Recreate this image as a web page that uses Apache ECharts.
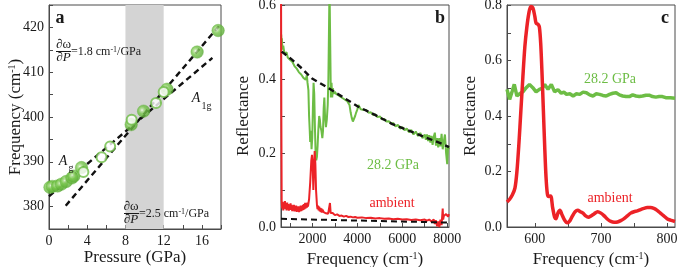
<!DOCTYPE html>
<html>
<head>
<meta charset="utf-8">
<script src="https://cdn.jsdelivr.net/npm/echarts@6/dist/echarts.min.js"></script>
<style>
  html, body { margin: 0; padding: 0; background: #fff; }
  #chart { width: 685px; height: 267px; }
</style>
</head>
<body>
<div id="chart"></div>
<script>
// panel a — Raman mode vs pressure
const aFilled = [[0.1, 384.3], [0.35, 384.5], [0.9, 384.6], [1.3, 385.0], [1.8, 385.6], [2.4, 386.4], [2.6, 386.8], [3.4, 388.7], [8.6, 398.3], [9.9, 401.3], [12.35, 406.2], [15.5, 414.5], [17.7, 419.3]];
const aOpen = [[3.6, 387.7], [5.5, 391.0], [6.4, 393.4], [12.0, 405.6], [8.65, 399.4], [11.2, 403.1]];
const aFitSlow = [[0, 382.3], [17.1, 413.2]];   // 1.8 cm-1/GPa
const aFitFast = [[1.75, 380.2], [17.95, 420.7]]; // 2.5 cm-1/GPa
const aShade = [8, 12];

// panel b — broadband reflectance
const bHigh = [[600, 0.46], [610, 0.52], [620, 0.5], [640, 0.51], [660, 0.48], [700, 0.49], [750, 0.47], [800, 0.468], [850, 0.472], [900, 0.458], [950, 0.462], [1000, 0.452], [1050, 0.45], [1100, 0.447], [1150, 0.443], [1200, 0.435], [1250, 0.437], [1300, 0.428], [1350, 0.424], [1400, 0.418], [1450, 0.42], [1500, 0.412], [1550, 0.408], [1600, 0.403], [1650, 0.405], [1700, 0.398], [1750, 0.41], [1780, 0.39], [1820, 0.37], [1850, 0.3], [1880, 0.26], [1900, 0.23], [1930, 0.26], [1960, 0.21], [1990, 0.24], [2020, 0.32], [2050, 0.39], [2080, 0.36], [2110, 0.27], [2140, 0.2], [2170, 0.18], [2200, 0.19], [2230, 0.22], [2260, 0.26], [2300, 0.3], [2330, 0.29], [2360, 0.27], [2400, 0.26], [2440, 0.24], [2470, 0.26], [2500, 0.32], [2530, 0.35], [2560, 0.3], [2600, 0.27], [2640, 0.29], [2680, 0.33], [2710, 0.4], [2740, 0.55], [2760, 0.65], [2780, 0.65], [2800, 0.45], [2820, 0.35], [2850, 0.39], [2880, 0.35], [2910, 0.375], [2950, 0.36], [3000, 0.366], [3050, 0.36], [3100, 0.362], [3150, 0.356], [3200, 0.358], [3250, 0.352], [3300, 0.354], [3350, 0.348], [3400, 0.35], [3450, 0.344], [3500, 0.345], [3550, 0.34], [3600, 0.338], [3650, 0.33], [3700, 0.31], [3750, 0.295], [3800, 0.285], [3850, 0.29], [3900, 0.3], [3950, 0.31], [4000, 0.318], [4050, 0.33], [4100, 0.334], [4150, 0.318], [4200, 0.322], [4300, 0.316], [4400, 0.316], [4500, 0.309], [4600, 0.31], [4700, 0.303], [4800, 0.304], [4900, 0.297], [5000, 0.299], [5100, 0.291], [5200, 0.292], [5300, 0.285], [5400, 0.286], [5500, 0.279], [5600, 0.281], [5700, 0.272], [5800, 0.276], [5900, 0.266], [6000, 0.27], [6100, 0.262], [6200, 0.266], [6300, 0.256], [6400, 0.262], [6500, 0.25], [6600, 0.258], [6700, 0.246], [6800, 0.254], [6900, 0.24], [7000, 0.25], [7050, 0.236], [7100, 0.25], [7150, 0.232], [7200, 0.248], [7250, 0.228], [7300, 0.246], [7350, 0.222], [7400, 0.244], [7450, 0.255], [7500, 0.22], [7550, 0.24], [7600, 0.215], [7650, 0.24], [7700, 0.218], [7750, 0.252], [7800, 0.21], [7850, 0.232], [7900, 0.25], [7950, 0.2], [8000, 0.17], [8040, 0.22], [8080, 0.21]];
const bAmbient = [[600, 0.7], [615, 0.3], [630, 0.07], [650, 0.05], [675, 0.068], [700, 0.045], [725, 0.065], [750, 0.05], [775, 0.07], [800, 0.048], [825, 0.063], [850, 0.045], [875, 0.066], [900, 0.05], [925, 0.062], [950, 0.044], [975, 0.06], [1000, 0.047], [1025, 0.064], [1050, 0.046], [1075, 0.06], [1100, 0.043], [1125, 0.058], [1150, 0.045], [1175, 0.06], [1200, 0.042], [1225, 0.057], [1250, 0.044], [1275, 0.058], [1300, 0.041], [1325, 0.055], [1350, 0.043], [1375, 0.056], [1400, 0.04], [1425, 0.055], [1450, 0.042], [1475, 0.058], [1500, 0.043], [1525, 0.056], [1550, 0.045], [1575, 0.06], [1600, 0.046], [1625, 0.062], [1650, 0.048], [1675, 0.065], [1700, 0.05], [1725, 0.064], [1750, 0.052], [1775, 0.066], [1800, 0.055], [1850, 0.075], [1900, 0.12], [1950, 0.18], [1980, 0.195], [2010, 0.17], [2040, 0.1], [2070, 0.16], [2100, 0.205], [2130, 0.17], [2160, 0.1], [2200, 0.06], [2225, 0.048], [2250, 0.058], [2275, 0.045], [2300, 0.055], [2325, 0.042], [2350, 0.052], [2375, 0.04], [2400, 0.05], [2425, 0.039], [2450, 0.047], [2500, 0.04], [2550, 0.045], [2600, 0.037], [2650, 0.042], [2700, 0.036], [2750, 0.04], [2780, 0.065], [2810, 0.038], [2850, 0.035], [2900, 0.038], [3000, 0.032], [3100, 0.034], [3200, 0.03], [3300, 0.031], [3400, 0.028], [3500, 0.03], [3600, 0.027], [3700, 0.028], [3800, 0.026], [3900, 0.027], [4000, 0.025], [4200, 0.026], [4400, 0.024], [4600, 0.025], [4800, 0.023], [5000, 0.024], [5200, 0.022], [5400, 0.023], [5600, 0.021], [5800, 0.022], [6000, 0.02], [6200, 0.021], [6400, 0.019], [6600, 0.02], [6800, 0.018], [7000, 0.02], [7100, 0.017], [7200, 0.02], [7300, 0.015], [7400, 0.02], [7450, 0.008], [7500, 0.018], [7550, 0.002], [7600, 0.015], [7650, 0], [7700, 0.02], [7750, 0.005], [7800, 0.05], [7820, 0.02], [7850, 0.03], [7900, 0.025], [7950, 0.035], [8000, 0.03], [8040, 0.028], [8080, 0.035]];
const bFitHigh = [[630, 0.474], [1076, 0.453], [1522, 0.429], [1967, 0.402], [2559, 0.381], [3302, 0.353], [4042, 0.325], [4786, 0.303], [5530, 0.279], [6268, 0.261], [7011, 0.243], [7754, 0.225], [8080, 0.216]];
const bFitAmbient = [[600, 0.022], [8080, 0.012]];

// panel c — phonon region
const cAmbient = [[558, 0.09], [562, 0.1], [566, 0.115], [570, 0.14], [573, 0.2], [576, 0.3], [579, 0.42], [582, 0.54], [585, 0.65], [588, 0.72], [591, 0.77], [594, 0.795], [597, 0.79], [600, 0.76], [602, 0.735], [605, 0.73], [607, 0.72], [609, 0.66], [611, 0.55], [613, 0.42], [615, 0.29], [617, 0.18], [619, 0.12], [621, 0.11], [624, 0.112], [627, 0.07], [630, 0.035], [632, 0.03], [635, 0.05], [638, 0.06], [641, 0.045], [645, 0.025], [649, 0.015], [653, 0.022], [657, 0.04], [661, 0.055], [665, 0.06], [669, 0.055], [673, 0.05], [677, 0.04], [681, 0.035], [685, 0.04], [690, 0.048], [695, 0.055], [700, 0.05], [705, 0.04], [710, 0.028], [715, 0.02], [720, 0.017], [725, 0.018], [730, 0.023], [735, 0.03], [740, 0.04], [745, 0.05], [750, 0.055], [755, 0.058], [760, 0.063], [765, 0.067], [770, 0.07], [775, 0.07], [780, 0.067], [785, 0.06], [790, 0.05], [795, 0.04], [800, 0.03], [805, 0.025], [812, 0.02]];
const cHigh = [[558, 0.496], [562, 0.46], [566, 0.49], [569, 0.514], [573, 0.472], [577, 0.48], [582, 0.487], [587, 0.502], [592, 0.514], [597, 0.502], [602, 0.487], [607, 0.496], [611, 0.5], [615, 0.514], [620, 0.496], [625, 0.514], [630, 0.487], [635, 0.495], [640, 0.482], [644, 0.486], [648, 0.478], [653, 0.48], [658, 0.472], [663, 0.48], [668, 0.478], [673, 0.486], [678, 0.484], [683, 0.476], [688, 0.472], [693, 0.48], [698, 0.478], [703, 0.474], [708, 0.472], [713, 0.478], [718, 0.482], [723, 0.484], [728, 0.476], [733, 0.472], [738, 0.47], [743, 0.47], [748, 0.476], [753, 0.472], [758, 0.47], [763, 0.472], [768, 0.475], [773, 0.475], [778, 0.47], [783, 0.468], [788, 0.47], [793, 0.47], [798, 0.466], [805, 0.466], [812, 0.464]];

// ticks
const bTicks = [1000, 2000, 3000, 4000, 5000, 6000, 7000, 8000];
const bLabels = [2000, 4000, 6000, 8000];
const cTicks = [600, 650, 700, 750, 800];
const cLabels = [600, 700, 800];

const FONT = "'Liberation Serif', 'Times New Roman', serif";
const INK = '#1a1a1a';
const FRAME = '#4a4a4a';
const GREEN = '#6dbd45';
const RED = '#ec2227';

const supRich = { sup: { fontSize: 10, fontFamily: FONT, color: INK, verticalAlign: 'top' } };

const axisLine = { show: true, lineStyle: { color: FRAME, width: 1 } };
const tick = (extra) => Object.assign({ show: true, inside: true, length: 4, lineStyle: { color: FRAME } }, extra);
const label = (extra) => Object.assign({ color: INK, fontFamily: FONT, fontSize: 14, margin: 5, formatter: (v) => String(v) }, extra);
const nameStyle = { color: INK, fontFamily: FONT, fontSize: 17, rich: supRich };

const grid = (left, top, width, height) => ({
  left, top, width, height, outerBoundsMode: 'none', containLabel: false,
  show: true, borderColor: FRAME, borderWidth: 1, backgroundColor: 'transparent',
});

const sphere = {
  type: 'radial', x: 0.38, y: 0.42, r: 0.62,
  colorStops: [
    { offset: 0, color: '#f6fcf1' },
    { offset: 0.18, color: '#b3e096' },
    { offset: 0.45, color: '#76c54a' },
    { offset: 1, color: '#58a834' },
  ],
};

const dashed = (xi, data, width) => ({
  type: 'line', xAxisIndex: xi, yAxisIndex: xi, data, symbol: 'none', z: 5,
  lineStyle: { color: '#111', width, type: [6, 4] }, silent: true,
});

const txt = (x, y, text, extra) => ({
  type: 'text', x, y, z: 100, silent: true,
  style: Object.assign({ text, fontFamily: FONT, fontSize: 12, fill: INK, textAlign: 'left', textVerticalAlign: 'middle' }, extra),
});
const italicP = { i: { fontFamily: FONT, fontSize: 13, fontStyle: 'italic', fill: INK } };
const supS = { s: { fontFamily: FONT, fontSize: 8, fill: INK, verticalAlign: 'top' } };

const chart = echarts.init(document.getElementById('chart'), null, { renderer: 'canvas' });

chart.setOption({
  animation: false,
  grid: [grid(49, 5, 172, 224), grid(281, 5, 168, 222), grid(507, 5, 168, 222)],
  xAxis: [
    {
      type: 'value', gridIndex: 0, min: 0, max: 18, interval: 2,
      axisLine, axisTick: tick(), splitLine: { show: false },
      axisLabel: label({ formatter: (v) => (v % 4 === 0 ? String(v) : '') }),
      name: 'Pressure (GPa)', nameLocation: 'middle', nameGap: 20, nameMoveOverlap: false, nameTextStyle: nameStyle,
    },
    {
      type: 'value', gridIndex: 1, min: 600, max: 8080,
      axisLine, axisTick: tick({ customValues: bTicks }), splitLine: { show: false },
      axisLabel: label({ customValues: bLabels }),
      name: 'Frequency (cm{sup|-1})', nameLocation: 'middle', nameGap: 24, nameMoveOverlap: false, nameTextStyle: nameStyle,
    },
    {
      type: 'value', gridIndex: 2, min: 558, max: 812,
      axisLine, axisTick: tick({ customValues: cTicks }), splitLine: { show: false },
      axisLabel: label({ customValues: cLabels }),
      name: 'Frequency (cm{sup|-1})', nameLocation: 'middle', nameGap: 24, nameMoveOverlap: false, nameTextStyle: nameStyle,
    },
  ],
  yAxis: [
    {
      type: 'value', gridIndex: 0, min: 375, max: 425, interval: 5,
      axisLine, axisTick: tick(), splitLine: { show: false },
      axisLabel: label({ formatter: (v) => (v % 10 === 0 && v >= 380 && v <= 420 ? String(v) : '') }),
      name: 'Frequency (cm{sup|-1})', nameLocation: 'middle', nameGap: 25, nameMoveOverlap: false, nameTextStyle: nameStyle,
    },
    {
      type: 'value', gridIndex: 1, min: 0, max: 0.6, interval: 0.1,
      axisLine, axisTick: tick(), splitLine: { show: false },
      axisLabel: label({ formatter: (v) => (Math.round(v * 10) % 2 === 0 ? v.toFixed(1) : '') }),
      name: 'Reflectance', nameLocation: 'middle', nameGap: 29, nameMoveOverlap: false, nameTextStyle: nameStyle,
    },
    {
      type: 'value', gridIndex: 2, min: 0, max: 0.8, interval: 0.1,
      axisLine, axisTick: tick(), splitLine: { show: false },
      axisLabel: label({ formatter: (v) => (Math.round(v * 10) % 2 === 0 ? v.toFixed(1) : '') }),
      name: 'Reflectance', nameLocation: 'middle', nameGap: 28, nameMoveOverlap: false, nameTextStyle: nameStyle,
    },
  ],
  series: [
    // panel a
    {
      type: 'line', xAxisIndex: 0, yAxisIndex: 0, data: [], z: 1, silent: true,
      markArea: { silent: true, itemStyle: { color: '#d4d4d4' }, data: [[{ xAxis: aShade[0] }, { xAxis: aShade[1] }]] },
    },
    dashed(0, aFitSlow, 2.4),
    dashed(0, aFitFast, 2.4),
    {
      type: 'scatter', xAxisIndex: 0, yAxisIndex: 0, data: aFilled, symbolSize: 12.5, z: 6,
      itemStyle: { color: sphere, borderColor: '#5fae3a', borderWidth: 0.5 },
    },
    {
      type: 'scatter', xAxisIndex: 0, yAxisIndex: 0, data: aOpen, symbolSize: 10, z: 7,
      itemStyle: { color: '#ffffff', borderColor: GREEN, borderWidth: 2 },
    },
    // panel b
    {
      type: 'line', xAxisIndex: 1, yAxisIndex: 1, data: bHigh, symbol: 'none', z: 3,
      lineStyle: { color: GREEN, width: 2 },
    },
    {
      type: 'line', xAxisIndex: 1, yAxisIndex: 1, data: bAmbient, symbol: 'none', z: 3,
      lineStyle: { color: RED, width: 2 },
    },
    dashed(1, bFitHigh, 2.4),
    dashed(1, bFitAmbient, 2),
    // panel c
    {
      type: 'line', xAxisIndex: 2, yAxisIndex: 2, data: cHigh, symbol: 'none', z: 3,
      lineStyle: { color: GREEN, width: 3.5 },
    },
    {
      type: 'line', xAxisIndex: 2, yAxisIndex: 2, data: cAmbient, symbol: 'none', z: 4, smooth: 0.3,
      lineStyle: { color: RED, width: 3.5 },
    },
  ],
  graphic: [
    // panel letters
    txt(60, 18, 'a', { fontSize: 18, fontWeight: 'bold', textAlign: 'center' }),
    txt(440, 18, 'b', { fontSize: 18, fontWeight: 'bold', textAlign: 'center' }),
    txt(665, 18, 'c', { fontSize: 18, fontWeight: 'bold', textAlign: 'center' }),
    // slope 1.8
    txt(63.5, 45, '∂ω', { fontSize: 13, textAlign: 'center' }),
    { type: 'line', z: 100, silent: true, shape: { x1: 56, y1: 51.5, x2: 71, y2: 51.5 }, style: { stroke: INK, lineWidth: 1 } },
    txt(63.5, 58, '∂{i|P}', { fontSize: 13, textAlign: 'center', rich: italicP }),
    txt(71, 52, '=1.8 cm{s|-1}/GPa', { rich: supS }),
    // slope 2.5
    txt(131, 207, '∂ω', { fontSize: 13, textAlign: 'center' }),
    { type: 'line', z: 100, silent: true, shape: { x1: 124, y1: 213.5, x2: 139, y2: 213.5 }, style: { stroke: INK, lineWidth: 1 } },
    txt(131, 220, '∂{i|P}', { fontSize: 13, textAlign: 'center', rich: italicP }),
    txt(139, 214, '=2.5 cm{s|-1}/GPa', { rich: supS }),
    // mode labels
    txt(63, 161, 'A', { fontSize: 14, fontStyle: 'italic', textAlign: 'center' }),
    txt(68.5, 168, 'g', { fontSize: 10 }),
    txt(196, 98, 'A', { fontSize: 14, fontStyle: 'italic', textAlign: 'center' }),
    txt(201.5, 106, '1g', { fontSize: 10 }),
    // series labels
    txt(393, 165, '28.2 GPa', { fontSize: 14, fill: GREEN, textAlign: 'center' }),
    txt(392, 203, 'ambient', { fontSize: 14, fill: RED, textAlign: 'center' }),
    txt(610, 79, '28.2 GPa', { fontSize: 14, fill: GREEN, textAlign: 'center' }),
    txt(610, 198, 'ambient', { fontSize: 14, fill: RED, textAlign: 'center' }),
  ],
});
</script>
</body>
</html>
